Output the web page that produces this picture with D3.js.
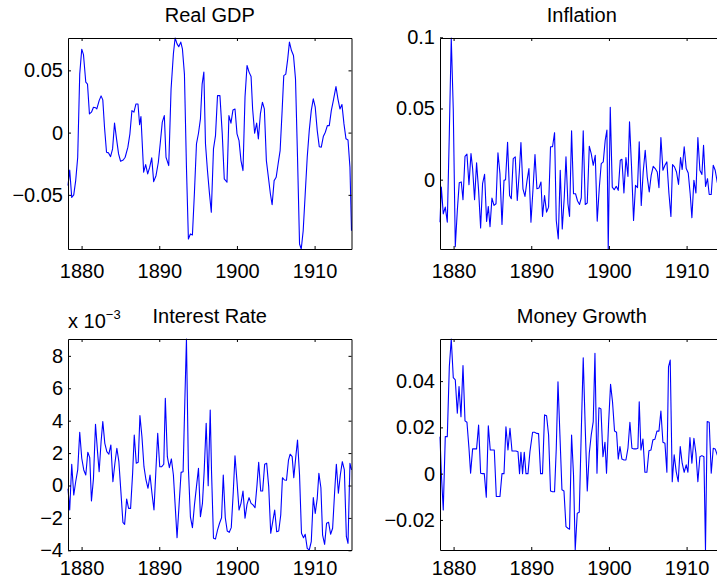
<!DOCTYPE html>
<html>
<head>
<meta charset="utf-8">
<script src="https://cdn.jsdelivr.net/npm/d3@7"></script>
<style>
  body { margin: 0; background: #fff; }
  svg { display: block; font-family: "Liberation Sans", Arial, Helvetica, sans-serif; }
</style>
</head>
<body>
<svg id="chart" width="717" height="581"></svg>
<script>
// ---- data (quarterly, 1878-1914) ----

var xDomain = [1878.25, 1914.75];
var xTicks = [1880, 1890, 1900, 1910];

// Real GDP
var gdpYears = [1878.25, 1878.47, 1878.73, 1878.99, 1879.24, 1879.50, 1879.76, 1880.02, 1880.24, 1880.54,
  1880.76, 1881.01, 1881.27, 1881.53, 1881.79, 1881.96, 1882.26, 1882.51, 1882.73, 1882.95,
  1883.21, 1883.47, 1883.73, 1883.99, 1884.24, 1884.50, 1884.76, 1885.02, 1885.36, 1885.61,
  1885.96, 1886.22, 1886.48, 1886.74, 1887.00, 1887.26, 1887.47, 1887.64, 1887.99, 1888.25,
  1888.51, 1888.77, 1889.03, 1889.28, 1889.58, 1889.88, 1890.14, 1890.39, 1890.65, 1890.87,
  1891.22, 1891.52, 1891.82, 1892.04, 1892.29, 1892.51, 1892.77, 1892.98, 1893.24, 1893.50,
  1893.75, 1894.01, 1894.27, 1894.53, 1894.79, 1895.05, 1895.30, 1895.52, 1895.74, 1895.95,
  1896.20, 1896.45, 1896.70, 1896.98, 1897.24, 1897.50, 1897.81, 1898.11, 1898.37, 1898.72,
  1898.97, 1899.23, 1899.49, 1899.75, 1900.01, 1900.27, 1900.52, 1900.78, 1901.04, 1901.30,
  1901.56, 1901.82, 1902.02, 1902.28, 1902.54, 1902.76, 1903.02, 1903.28, 1903.53, 1903.79,
  1904.05, 1904.31, 1904.53, 1904.79, 1905.05, 1905.30, 1905.56, 1905.82, 1906.03, 1906.29,
  1906.54, 1906.76, 1907.02, 1907.28, 1907.54, 1907.80, 1908.06, 1908.28, 1908.53, 1908.79,
  1909.05, 1909.31, 1909.57, 1909.83, 1910.08, 1910.34, 1910.60, 1910.86, 1911.12, 1911.38,
  1911.64, 1911.89, 1912.15, 1912.41, 1912.75, 1913.00, 1913.26, 1913.52, 1913.78, 1914.04,
  1914.30, 1914.55, 1914.75];
var gdpValues = [-0.0426, -0.030, -0.052, -0.050, -0.0386, -0.0198, 0.047, 0.067, 0.0627, 0.0405,
  0.039, 0.015, 0.0164, 0.0204, 0.020, 0.019, 0.0257, 0.0295, 0.0263, 0.0043,
  -0.0158, -0.0163, -0.0193, -0.0131, 0.0076, -0.005, -0.0171, -0.023, -0.022, -0.0198,
  -0.0117, -0.001, 0.0177, 0.0164, 0.023, 0.023, 0.0064, 0.0129, -0.0318, -0.0257,
  -0.0332, -0.0278, -0.0203, -0.0394, -0.0346, -0.0238, -0.0077, 0.0084, 0.0137, -0.0198,
  -0.0265, 0.035, 0.0633, 0.076, 0.0713, 0.069, 0.0727, 0.0673, 0.047, -0.0278,
  -0.0855, -0.0814, -0.0822, -0.0479, -0.0091, -0.0005, 0.011, 0.039, 0.0486, -0.009,
  -0.030, -0.048, -0.064, -0.0131, -0.0024, 0.0297, 0.0297, -0.001, -0.0372, -0.0399,
  0.0137, 0.0076, 0.0182, 0.019, -0.001, -0.0064, -0.0225, -0.0305, 0.0285, 0.0539,
  0.0486, 0.045, 0.019, -0.0005, 0.0076, -0.005, 0.015, 0.0244, 0.019, -0.0225,
  -0.0359, -0.0493, -0.0579, -0.0386, -0.0359, -0.0252, -0.0145, 0.0177, 0.0458, 0.047,
  0.0592, 0.0727, 0.0659, 0.0619, 0.0432, -0.0198, -0.0895, -0.0935, -0.0788, -0.0493,
  -0.0198, 0.0016, 0.0177, 0.0271, 0.0204, 0.0016, -0.0113, -0.0117, -0.0032, 0.0003,
  0.0056, 0.0056, 0.0177, 0.0257, 0.037, 0.0271, 0.019, 0.0225, 0.007, -0.005,
  -0.0059, -0.0278, -0.0788];
var gdpTicks = [-0.05, 0, 0.05];
var gdpTickLabels = ["\u22120.05", "0", "0.05"];

// Inflation
var inflYears = [1878.25, 1878.42, 1878.67, 1878.93, 1879.19, 1879.45, 1879.70, 1879.96, 1880.22, 1880.48,
  1880.73, 1880.99, 1881.21, 1881.47, 1881.72, 1881.98, 1882.24, 1882.45, 1882.70, 1882.96,
  1883.22, 1883.48, 1883.73, 1883.99, 1884.25, 1884.47, 1884.69, 1884.94, 1885.20, 1885.46,
  1885.71, 1885.97, 1886.23, 1886.49, 1886.69, 1886.95, 1887.21, 1887.43, 1887.68, 1887.94,
  1888.20, 1888.46, 1888.67, 1888.93, 1889.19, 1889.45, 1889.70, 1889.96, 1890.22, 1890.48,
  1890.73, 1890.99, 1891.25, 1891.45, 1891.71, 1891.97, 1892.23, 1892.48, 1892.74, 1893.00,
  1893.22, 1893.48, 1893.73, 1893.99, 1894.25, 1894.47, 1894.72, 1894.93, 1895.19, 1895.44,
  1895.70, 1895.96, 1896.22, 1896.44, 1896.69, 1896.95, 1897.21, 1897.47, 1897.72, 1897.98,
  1898.24, 1898.49, 1898.75, 1899.01, 1899.27, 1899.52, 1899.74, 1899.91, 1900.17, 1900.43,
  1900.68, 1900.94, 1901.20, 1901.46, 1901.67, 1901.93, 1902.19, 1902.45, 1902.65, 1902.91,
  1903.17, 1903.42, 1903.68, 1903.90, 1904.16, 1904.41, 1904.67, 1904.93, 1905.19, 1905.44,
  1905.70, 1905.96, 1906.22, 1906.44, 1906.69, 1906.95, 1907.21, 1907.46, 1907.72, 1907.98,
  1908.19, 1908.44, 1908.70, 1908.96, 1909.22, 1909.43, 1909.69, 1909.95, 1910.21, 1910.46,
  1910.68, 1910.94, 1911.20, 1911.45, 1911.71, 1911.97, 1912.18, 1912.44, 1912.69, 1912.91,
  1913.17, 1913.43, 1913.68, 1913.95, 1914.20, 1914.45, 1914.75];
var inflValues = [-0.0299, -0.0052, -0.024, -0.0193, -0.0299, 0.0325, 0.0995, 0.049, -0.047, -0.0217,
  -0.0021, -0.0016, -0.0141, 0.0164, 0.0179, -0.0035, 0.0183, 0.0078, -0.0141, 0.0118,
  -0.0075, -0.0339, -0.0028, 0.0038, -0.0294, -0.0188, -0.033, -0.0129, -0.0181, -0.0169,
  0.0188, 0.0042, -0.0315, -0.0005, 0.0, 0.0263, -0.0111, -0.0134, 0.0148, 0.016,
  -0.0146, 0.0054, 0.0261, -0.0064, -0.0118, -0.0009, 0.0078, -0.0299, -0.0071, 0.0176,
  -0.0064, -0.0059, -0.0016, -0.0259, -0.0111, -0.0228, -0.0193, 0.0231, 0.0231, 0.033,
  -0.0287, -0.0416, 0.0066, -0.0346, -0.0122, 0.016, -0.0169, -0.0259, 0.0344, -0.0099,
  -0.0099, -0.015, -0.0174, -0.0127, 0.0344, -0.0174, -0.0164, 0.0235, 0.0183, 0.0101,
  0.0171, -0.0291, -0.0064, 0.0113, 0.0125, 0.0277, 0.0348, -0.0487, 0.0508, -0.0052,
  -0.0071, -0.0047, -0.0075, 0.0136, 0.0143, -0.0094, 0.0155, 0.0023, 0.0407, 0.009,
  -0.0287, -0.004, -0.0056, 0.0266, -0.0181, 0.0054, 0.0207, 0.0019, -0.0087, 0.003,
  0.0094, 0.0078, 0.0054, -0.0056, 0.0296, 0.0066, 0.0101, 0.0125, -0.0094, -0.0259,
  0.0106, 0.009, 0.0054, -0.0033, 0.0155, 0.0071, 0.0231, 0.0078, 0.0047, -0.0099,
  -0.0268, -0.0005, -0.0094, 0.0296, 0.0066, 0.0037, 0.0242, -0.0047, 0.0007, -0.0104,
  -0.0104, 0.0101, 0.0066, -0.002, 0.006, -0.004, 0.003];
var inflTicks = [0, 0.05, 0.1];
var inflTickLabels = ["0", "0.05", "0.1"];

// Interest Rate (units of 10^-3)
var rateYears = [1878.25, 1878.47, 1878.73, 1878.99, 1879.24, 1879.50, 1879.76, 1880.02, 1880.28, 1880.54,
  1880.80, 1881.05, 1881.27, 1881.53, 1881.79, 1882.05, 1882.26, 1882.51, 1882.73, 1882.99,
  1883.25, 1883.51, 1883.77, 1884.03, 1884.29, 1884.54, 1884.80, 1885.06, 1885.32, 1885.54,
  1885.80, 1886.05, 1886.31, 1886.57, 1886.78, 1887.04, 1887.29, 1887.51, 1887.77, 1888.03,
  1888.29, 1888.55, 1888.81, 1889.06, 1889.32, 1889.58, 1889.80, 1890.06, 1890.32, 1890.58,
  1890.78, 1891.04, 1891.30, 1891.56, 1891.82, 1892.07, 1892.29, 1892.55, 1892.81, 1893.07,
  1893.29, 1893.50, 1893.75, 1894.01, 1894.27, 1894.53, 1894.79, 1895.05, 1895.30, 1895.56,
  1895.78, 1896.04, 1896.30, 1896.56, 1896.73, 1896.98, 1897.24, 1897.50, 1897.76, 1898.02,
  1898.24, 1898.50, 1898.75, 1899.01, 1899.27, 1899.53, 1899.75, 1900.01, 1900.27, 1900.52,
  1900.78, 1901.04, 1901.30, 1901.56, 1901.82, 1902.07, 1902.33, 1902.59, 1902.80, 1903.06,
  1903.31, 1903.57, 1903.83, 1904.09, 1904.35, 1904.61, 1904.86, 1905.12, 1905.38, 1905.64,
  1905.86, 1906.12, 1906.38, 1906.64, 1906.85, 1907.11, 1907.32, 1907.58, 1907.80, 1908.06,
  1908.31, 1908.57, 1908.79, 1909.05, 1909.31, 1909.57, 1909.83, 1910.08, 1910.34, 1910.55,
  1910.81, 1911.03, 1911.29, 1911.54, 1911.80, 1912.06, 1912.32, 1912.58, 1912.80, 1913.06,
  1913.31, 1913.57, 1913.83, 1914.09, 1914.30, 1914.55, 1914.75];
var rateValues = [-0.2, -1.51, 1.31, -0.59, 0.23, 0.96, 3.28, 1.68, 0.96, 0.65,
  2.05, 1.72, -0.96, 0.44, 3.78, 2.09, 0.85, 2.70, 3.94, 2.60,
  2.09, 1.93, 2.50, 0.23, 1.37, 2.30, 1.47, -0.38, -2.27, -2.40,
  -0.83, -1.41, -1.41, 0.75, 3.12, 1.37, 1.43, 4.31, 3.01, 1.16,
  0.34, -0.17, 0.65, -0.48, -1.51, 1.06, 3.22, 1.16, 1.16, 1.31,
  5.38, 1.78, 1.10, 1.64, 0.65, -1.41, -3.22, -1.20, 0.81, 0.85,
  5.17, 9.04, 1.06, -1.93, -2.60, -1.20, -0.07, 1.06, -1.93, -1.10,
  0.85, 3.84, -0.01, 4.66, 0.85, -3.26, -3.30, -2.75, -2.33, -1.99,
  0.65, -1.99, -2.81, -2.89, -2.60, -0.38, 1.84, 0.23, -1.51, -1.10,
  -0.34, -2.02, -1.16, -0.75, -1.10, -1.20, -1.37, 0.07, 1.43, -0.34,
  -0.34, 1.31, 1.37, -0.07, -2.95, -2.23, -1.51, -2.85, -2.81, -1.82,
  0.48, 0.34, 0.32, 1.57, 1.93, 1.78, 0.48, 1.78, 2.81, 0.65,
  -2.95, -3.22, -3.01, -3.88, -3.98, -3.47, -0.75, -1.72, -0.79, 0.75,
  -0.14, -3.06, -3.63, -2.33, -2.27, -3.01, -2.64, -0.38, 1.31, -0.48,
  0.65, 1.47, 0.96, -3.16, -3.57, 1.37, 0.96];
var rateTicks = [-4, -2, 0, 2, 4, 6, 8];
var rateTickLabels = ["\u22124", "\u22122", "0", "2", "4", "6", "8"];

// Money Growth
var moneyYears = [1878.25, 1878.42, 1878.67, 1878.93, 1879.19, 1879.45, 1879.70, 1879.96, 1880.22, 1880.48,
  1880.70, 1880.95, 1881.21, 1881.47, 1881.72, 1881.98, 1882.19, 1882.45, 1882.70, 1882.96,
  1883.22, 1883.48, 1883.73, 1883.95, 1884.21, 1884.47, 1884.72, 1884.98, 1885.24, 1885.50,
  1885.75, 1885.97, 1886.23, 1886.49, 1886.74, 1887.00, 1887.26, 1887.52, 1887.77, 1888.03,
  1888.29, 1888.49, 1888.67, 1888.88, 1889.10, 1889.32, 1889.58, 1889.83, 1890.17, 1890.43,
  1890.68, 1890.94, 1891.20, 1891.45, 1891.71, 1891.97, 1892.23, 1892.48, 1892.74, 1893.00,
  1893.22, 1893.44, 1893.69, 1893.95, 1894.21, 1894.47, 1894.72, 1894.93, 1895.19, 1895.44,
  1895.66, 1895.92, 1896.18, 1896.44, 1896.69, 1896.95, 1897.21, 1897.47, 1897.72, 1897.98,
  1898.20, 1898.46, 1898.71, 1898.97, 1899.23, 1899.49, 1899.69, 1899.95, 1900.21, 1900.46,
  1900.72, 1900.98, 1901.20, 1901.42, 1901.67, 1901.93, 1902.19, 1902.45, 1902.70, 1902.96,
  1903.22, 1903.48, 1903.73, 1903.90, 1904.12, 1904.38, 1904.63, 1904.89, 1905.15, 1905.41,
  1905.66, 1905.92, 1906.18, 1906.44, 1906.69, 1906.95, 1907.21, 1907.46, 1907.67, 1907.89,
  1908.15, 1908.40, 1908.66, 1908.92, 1909.18, 1909.43, 1909.69, 1909.95, 1910.17, 1910.43,
  1910.68, 1910.94, 1911.20, 1911.45, 1911.71, 1911.97, 1912.23, 1912.43, 1912.65, 1912.91,
  1913.17, 1913.43, 1913.68, 1913.95, 1914.20, 1914.45, 1914.75];
var moneyValues = [0.016, 0.0002, -0.0157, 0.016, 0.016, 0.0462, 0.0582, 0.0415, 0.0405, 0.0261,
  0.0376, 0.0246, 0.0467, 0.0228, 0.0222, 0.011, 0.0002, 0.0107, 0.0107, 0.0107,
  0.021, 0.0002, 0.0, 0.0, -0.0102, 0.0207, 0.0102, 0.0102, 0.0102, -0.0099,
  -0.0099, -0.0099, 0.0, 0.0, 0.0203, 0.0102, 0.0196, 0.0098, 0.0098, 0.0098,
  0.0095, 0.0, 0.0092, 0.0, 0.0092, 0.0, 0.0, 0.0095, 0.0179, 0.0179,
  0.0174, 0.0173, 0.0, 0.0, 0.0254, 0.025, 0.0167, -0.0075, -0.0078, -0.0078,
  0.011, 0.0397, 0.0167, -0.007, -0.0075, -0.0229, -0.0236, -0.024, 0.0167, -0.0006,
  -0.033, -0.0171, -0.0167, 0.0181, 0.0501, 0.0196, -0.0075, 0.0088, 0.0167, 0.0225,
  0.052, 0.0002, 0.0285, 0.028, 0.0073, 0.0136, 0.0002, 0.0213, 0.0386, 0.0311,
  0.0184, 0.0179, 0.0063, 0.0117, 0.0063, 0.0059, 0.0059, 0.011, 0.0222, 0.011,
  0.0107, 0.0107, 0.011, 0.0311, 0.0102, 0.015, 0.0006, 0.0006, 0.0099, 0.0102,
  0.0146, 0.0149, 0.0184, 0.0184, 0.0271, 0.0136, 0.0131, 0.0006, 0.0462, 0.0491,
  -0.0035, 0.0081, 0.0009, -0.0035, 0.0117, 0.0045, 0.0006, 0.0038, 0.0006, 0.0156,
  0.0045, 0.0153, 0.0088, -0.0035, 0.0073, 0.0078, 0.0073, -0.033, 0.0225, 0.0222,
  0.0002, 0.011, 0.0107, 0.008, 0.012, 0.005, 0.009];
var moneyTicks = [-0.02, 0, 0.02, 0.04];
var moneyTickLabels = ["\u22120.02", "0", "0.02", "0.04"];

// ---- layout ----
var fontSize = 20;
var panelW = 283.5, panelH = 211;

var panels = [
  { title: "Real GDP", years: gdpYears, values: gdpValues, ticks: gdpTicks, labels: gdpTickLabels, left: 68, top: 38, xPad: 14.5 },
  { title: "Inflation", years: inflYears, values: inflValues, ticks: inflTicks, labels: inflTickLabels, left: 440, top: 38, xPad: 14.5 },
  { title: "Interest Rate", years: rateYears, values: rateValues, ticks: rateTicks, labels: rateTickLabels, left: 68, top: 339, xPad: 10.5, exponent: "\u22123" },
  { title: "Money Growth", years: moneyYears, values: moneyValues, ticks: moneyTicks, labels: moneyTickLabels, left: 440, top: 339, xPad: 10.5 }
];

var svg = d3.select("#chart");
svg.append("rect").attr("width", 717).attr("height", 581).attr("fill", "#fff");

panels.forEach(function (p) { drawPanel(svg, p); });

function drawPanel(svg, p) {
    var g = svg.append("g")
        .attr("transform", "translate(" + p.left + "," + p.top + ")");

    var x = d3.scaleLinear().domain(xDomain).range([0, panelW]);
    var y = d3.scaleLinear().domain(d3.extent(p.values)).range([panelH, 0]);

    // the series
    var line = d3.line()
        .x(function (d, i) { return x(p.years[i]); })
        .y(function (d) { return y(d); });

    g.append("path")
        .datum(p.values)
        .attr("fill", "none")
        .attr("stroke", "#0000ff")
        .attr("stroke-width", 1.1)
        .attr("stroke-linejoin", "round")
        .attr("d", line);

    // box with inward ticks on all four sides
    g.append("g")
        .attr("class", "axis")
        .attr("transform", "translate(0," + panelH + ")")
        .call(d3.axisBottom(x).tickValues(xTicks).tickFormat(d3.format("d"))
            .tickSize(-3).tickSizeOuter(0).tickPadding(p.xPad));

    g.append("g")
        .attr("class", "axis")
        .call(d3.axisTop(x).tickValues(xTicks).tickFormat("")
            .tickSize(-3).tickSizeOuter(0));

    g.append("g")
        .attr("class", "axis")
        .call(d3.axisLeft(y).tickValues(p.ticks)
            .tickFormat(function (d, i) { return p.labels[i]; })
            .tickSize(-3).tickSizeOuter(0).tickPadding(5));

    g.append("g")
        .attr("class", "axis")
        .attr("transform", "translate(" + panelW + ",0)")
        .call(d3.axisRight(y).tickValues(p.ticks).tickFormat("")
            .tickSize(-3).tickSizeOuter(0));

    g.selectAll(".axis path").attr("stroke", "#000").attr("stroke-width", 1);
    g.selectAll(".axis line").attr("stroke", "#000").attr("stroke-width", 1);
    g.selectAll(".axis text")
        .attr("fill", "#000")
        .style("font-size", fontSize + "px")
        .style("font-family", "'Liberation Sans', Arial, Helvetica, sans-serif");

    // title
    g.append("text")
        .attr("x", panelW / 2)
        .attr("y", -16)
        .attr("text-anchor", "middle")
        .style("font-size", fontSize + "px")
        .text(p.title);

    // scale factor label (x 10^-3)
    if (p.exponent) {
        var t = g.append("text")
            .attr("x", 0)
            .attr("y", -11)
            .style("font-size", fontSize + "px")
            .text("x 10");
        t.append("tspan")
            .attr("dy", -9)
            .style("font-size", "13px")
            .text(p.exponent);
    }
}
</script>
</body>
</html>
